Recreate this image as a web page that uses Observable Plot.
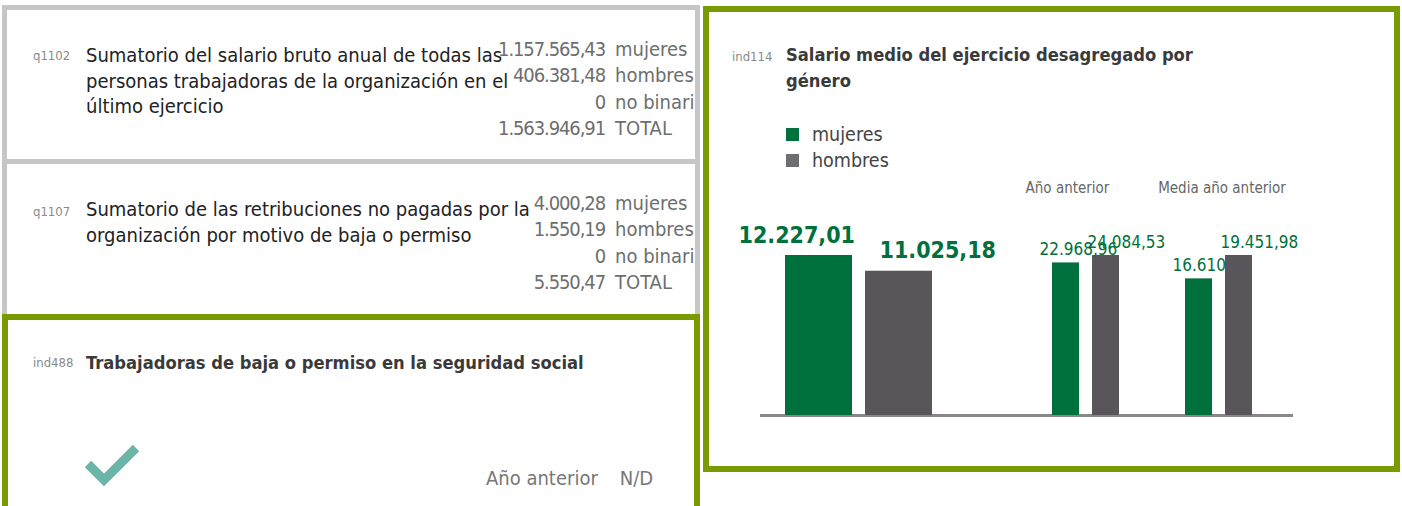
<!DOCTYPE html>
<html>
<head>
<meta charset="utf-8">
<script src="https://cdn.jsdelivr.net/npm/d3@7"></script>
<script src="https://cdn.jsdelivr.net/npm/@observablehq/plot@0.6"></script>
<style>
  html, body { margin: 0; padding: 0; background: #fff; }
  body { width: 1402px; height: 506px; position: relative; overflow: hidden;
         font-family: "Liberation Sans Narrow", "DejaVu Sans Condensed", "Roboto", sans-serif; }
  .abs { position: absolute; }
  .panel { position: absolute; box-sizing: border-box; overflow: hidden; background: #fff; }
  .gray { border: 5px solid #c6c6c6; }
  .green { border: 6px solid #7a9a01; }
  .code { position: absolute; font-size: 13px; line-height: 16px; color: #8a8a8a; white-space: nowrap; }
  .main { position: absolute; font-size: 20px; line-height: 25.5px; color: #222; white-space: nowrap; }
  .title { position: absolute; font-size: 18.2px; line-height: 26px; color: #3a3a3a; font-weight: bold; white-space: nowrap; }
  .nums { position: absolute; font-size: 20px; line-height: 26.3px; color: #6e6e6e; white-space: nowrap; }
  .nums .row { display: flex; }
  .nums .n { width: 150px; text-align: right; letter-spacing: -1.1px; }
  .nums .l { margin-left: 10px; }
  #legend { position: absolute; left: 786px; top: 122px; }
  #legend svg { margin-right: 13px !important; }
</style>
</head>
<body>
<script>
// ---------- data ----------
const genders = ["mujeres", "hombres"];
const sumLabels = ["mujeres", "hombres", "no binaria", "TOTAL"];
const q1102Values = ["1.157.565,43", "406.381,48", "0", "1.563.946,91"];
const q1107Values = ["4.000,28", "1.550,19", "0", "5.550,47"];
const groupTitles = ["Año anterior", "Media año anterior"];
const valActual = [12227.01, 11025.18];
const valAnterior = [22968.96, 24084.53];
const valMedia = [16610, 19451.98];
const lblActual = ["12.227,01", "11.025,18"];
const lblAnterior = ["22.968,96", "24.084,53"];
const lblMedia = ["16.610", "19.451,98"];
const colors = ["#00703c", "#5a555a"];
const legendColors = ["#00703c", "#6d6d72"];
</script>

<!-- Panel 1 -->
<div class="panel gray" style="left:2px; top:5px; width:698px; height:159px;">
  <div class="code" style="left:26px; top:38px;">q1102</div>
  <div class="main" style="left:79px; top:33px;">Sumatorio del salario bruto anual de todas las<br>personas trabajadoras de la organización en el<br>último ejercicio</div>
  <div class="nums" id="nums1" style="left:448px; top:26px;"></div>
</div>
<!-- Panel 2 -->
<div class="panel gray" style="left:2px; top:159px; width:698px; height:160px;">
  <div class="code" style="left:26px; top:40px;">q1107</div>
  <div class="main" style="left:79px; top:33px;">Sumatorio de las retribuciones no pagadas por la<br>organización por motivo de baja o permiso</div>
  <div class="nums" id="nums2" style="left:448px; top:26px;"></div>
</div>
<!-- Panel 3 -->
<div class="panel green" style="left:2px; top:314px; width:698px; height:230px;">
  <div class="code" style="left:25px; top:35px;">ind488</div>
  <div class="title" style="left:78px; top:30px;">Trabajadoras de baja o permiso en la seguridad social</div>
  <svg class="abs" style="left:70px; top:120px;" width="70" height="55">
    <polyline points="10,24 26,40 58,8" fill="none" stroke="#6ab5a8" stroke-width="9" stroke-linecap="butt" stroke-linejoin="miter"/>
  </svg>
  <div class="main" style="left:478px; top:146px; color:#777; font-size:20px;">Año anterior<span style="margin-left:22px;">N/D</span></div>
</div>
<!-- Panel 4 -->
<div class="panel green" style="left:703px; top:6px; width:697px; height:466px;">
  <div class="code" style="left:23px; top:37px;">ind114</div>
  <div class="title" style="left:77px; top:30px;">Salario medio del ejercicio desagregado por<br>género</div>
</div>
<div id="legend"></div>

<script>
// numbers tables
function fillNums(id, values) {
  const el = document.getElementById(id);
  values.forEach((v, i) => {
    const row = document.createElement("div");
    row.className = "row";
    row.innerHTML = `<span class="n">${v}</span><span class="l">${sumLabels[i]}</span>`;
    el.appendChild(row);
  });
}
fillNums("nums1", q1102Values);
fillNums("nums2", q1107Values);

const font = "Liberation Sans Narrow, DejaVu Sans Condensed, Roboto, sans-serif";

// legend
const leg = Plot.legend({
  color: {domain: genders, range: legendColors},
  legend: "swatches",
  columns: 1,
  swatchSize: 13,
  style: {fontSize: "19.5px", lineHeight: "25px", color: "#444", fontFamily: font}
});
document.getElementById("legend").appendChild(leg);

function groupPlot({values, labels, left, width, marginLeft, marginRight, xRange,
                    big, dxM, dxH, title, titleDx}) {
  const data = genders.map((g, i) => ({gender: g, value: values[i], label: labels[i]}));
  const labelStyle = {
    x: "gender", y: "value", text: "label", textAnchor: "start", lineAnchor: "bottom",
    dy: big ? -13 : -8, fill: colors[0],
    fontSize: big ? 23 : 17, fontWeight: big ? "bold" : "normal"
  };
  const marks = [
    Plot.ruleY([0], {stroke: "#888", strokeWidth: 3}),
    Plot.barY(data, {x: "gender", y: "value", fill: "gender"}),
    Plot.text(data.filter(d => d.gender === "mujeres"), {...labelStyle, dx: dxM}),
    Plot.text(data.filter(d => d.gender === "hombres"), {...labelStyle, dx: dxH})
  ];
  if (title) {
    marks.push(Plot.text([title], {text: d => d, frameAnchor: "top", lineAnchor: "middle",
      dy: -67, dx: titleDx, fill: "#666", fontSize: 15}));
  }
  const span = xRange[1] - xRange[0];
  const svg = Plot.plot({
    width, height: 250, marginLeft, marginRight, marginTop: 75, marginBottom: 15,
    x: {domain: genders, range: xRange, paddingInner: 26 / span, paddingOuter: 13 / span, axis: null},
    y: {domain: [0, d3.max(values)], axis: null},
    color: {domain: genders, range: colors},
    style: {fontFamily: font, background: "transparent", overflow: "visible"},
    marks
  });
  svg.style.position = "absolute";
  svg.style.left = left + "px";
  svg.style.top = "180px";
  document.body.appendChild(svg);
}

groupPlot({values: valActual, labels: lblActual, left: 720, width: 280, marginLeft: 40, marginRight: 0,
           xRange: [58.5, 218.5], big: true, dxM: -80.5, dxH: -19.5});
groupPlot({values: valAnterior, labels: lblAnterior, left: 1000, width: 150, marginLeft: 0, marginRight: 0,
           xRange: [45.5, 125.5], big: false, dxM: -26.5, dxH: -18.5, title: groupTitles[0], titleDx: -8});
groupPlot({values: valMedia, labels: lblMedia, left: 1150, width: 160, marginLeft: 0, marginRight: 17,
           xRange: [28.5, 108.5], big: false, dxM: -26.5, dxH: -18.5, title: groupTitles[1], titleDx: 0});
</script>
</body>
</html>
